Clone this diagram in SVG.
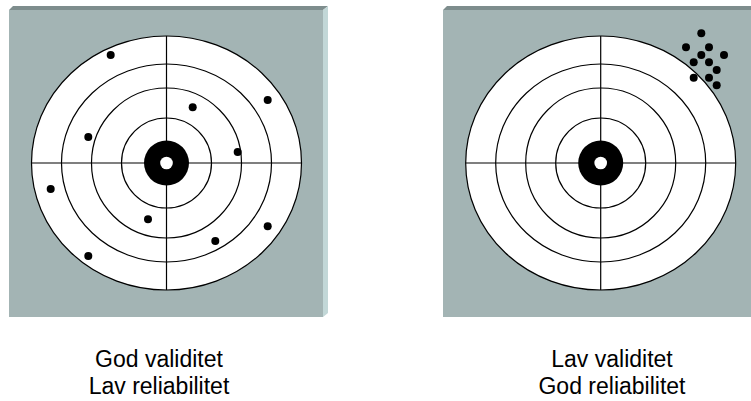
<svg xmlns="http://www.w3.org/2000/svg" width="751" height="401" viewBox="0 0 751 401">
<style>
.face{fill:#a3b4b4}
.top{fill:#7e8d8d}
.side{fill:#c2d7d7}
.ring{fill:#fff;stroke:#000;stroke-width:1.2}
.ln{fill:none;stroke:#000;stroke-width:1.2}
.hit{fill:#000}
.lbl{font-family:"Liberation Sans",Arial,sans-serif;font-size:23px;fill:#000;text-anchor:middle}
</style>
<defs>
<g id="target">
<ellipse class="ring" cx="0" cy="0" rx="135" ry="127"/>
<ellipse class="ring" cx="0" cy="0" rx="105" ry="99"/>
<ellipse class="ring" cx="0" cy="0" rx="75" ry="75"/>
<ellipse class="ring" cx="0" cy="0" rx="45" ry="45"/>
<line class="ln" x1="-135" y1="0" x2="135" y2="0"/>
<line class="ln" x1="0" y1="-127" x2="0" y2="127"/>
<circle cx="0" cy="0" r="22.5" fill="#000"/>
<circle cx="0" cy="0" r="6.3" fill="#fff"/>
</g>
</defs>
<g id="panel-left">
<polygon class="top" points="9,10 13,6 328,6 323,10"/>
<polygon class="side" points="323,10 328,6 328,313 323,317"/>
<rect class="face" x="9" y="10" width="314" height="307"/>
<use href="#target" x="166.5" y="163"/>
<g class="hit">
<circle cx="110.7" cy="55" r="4"/>
<circle cx="267.7" cy="100" r="4"/>
<circle cx="192.7" cy="107.3" r="4"/>
<circle cx="88.3" cy="137" r="4"/>
<circle cx="237.7" cy="152" r="4"/>
<circle cx="50.7" cy="189" r="4"/>
<circle cx="148" cy="219.3" r="4"/>
<circle cx="267.7" cy="226.3" r="4"/>
<circle cx="215.3" cy="241" r="4"/>
<circle cx="88.3" cy="256" r="4"/>
</g>
<text class="lbl" x="159" y="367">God validitet</text>
<text class="lbl" x="159" y="394">Lav reliabilitet</text>
</g>
<g id="panel-right">
<polygon class="top" points="443,10 447,6 751,6 751,10"/>
<rect class="face" x="443" y="10" width="308" height="307"/>
<use href="#target" x="600.7" y="163"/>
<g class="hit">
<circle cx="701.3" cy="33.3" r="4"/>
<circle cx="686" cy="47.3" r="4"/>
<circle cx="709" cy="47.3" r="4"/>
<circle cx="701.3" cy="55" r="4"/>
<circle cx="724" cy="55" r="4"/>
<circle cx="693.7" cy="62.3" r="4"/>
<circle cx="709" cy="62.3" r="4"/>
<circle cx="716.7" cy="70" r="4"/>
<circle cx="693.7" cy="77.7" r="4"/>
<circle cx="709" cy="77.7" r="4"/>
<circle cx="716.7" cy="85.3" r="4"/>
</g>
<text class="lbl" x="612" y="367">Lav validitet</text>
<text class="lbl" x="612" y="394">God reliabilitet</text>
</g>
</svg>
